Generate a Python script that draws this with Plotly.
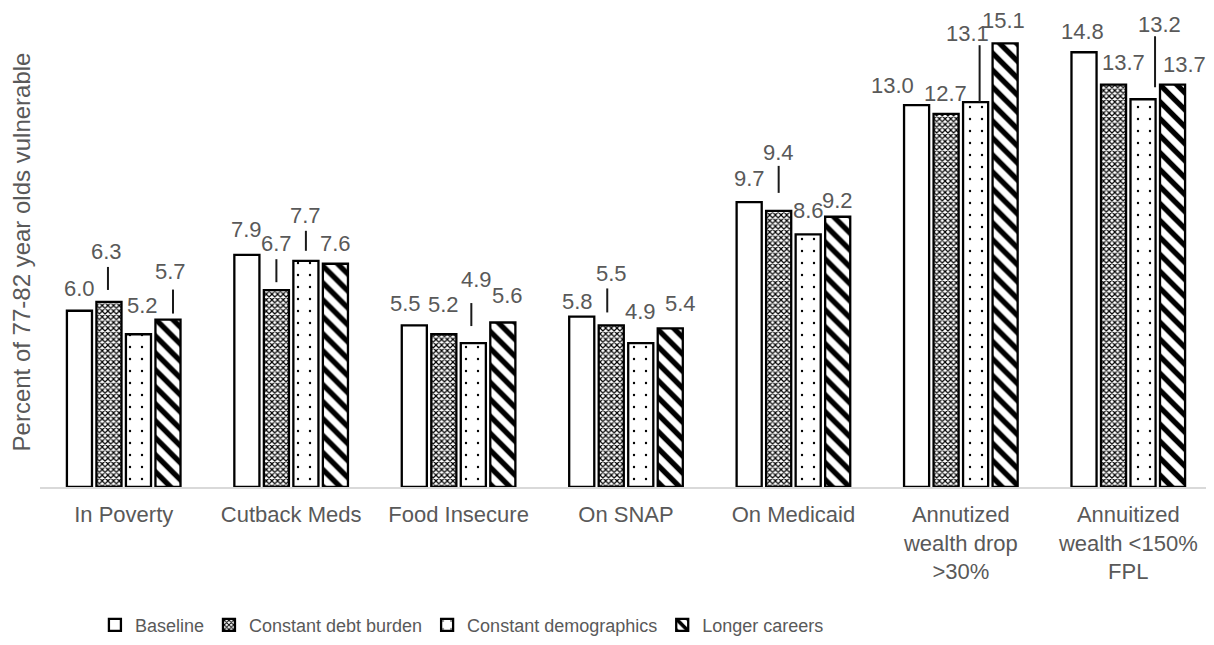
import plotly.graph_objects as go

categories = ["In Poverty", "Cutback Meds", "Food Insecure", "On SNAP", "On Medicaid",
              "Annutized<br>wealth drop<br>>30%", "Annuitized<br>wealth <150%<br>FPL"]
series_names = ["Baseline", "Constant debt burden", "Constant demographics", "Longer careers"]
baseline = [6.0, 7.9, 5.5, 5.8, 9.7, 13.0, 14.8]
debt = [6.3, 6.7, 5.2, 5.5, 9.4, 12.7, 13.7]
demog = [5.2, 7.7, 4.9, 4.9, 8.6, 13.1, 13.2]
longer = [5.7, 7.6, 5.6, 5.4, 9.2, 15.1, 13.7]
values = [baseline, debt, demog, longer]

GRAY = "#595959"
FONT = "Liberation Sans, Arial, sans-serif"
BARGAP = 0.295
patterns = [
    dict(shape=""),
    dict(shape="x", size=4, solidity=0.5, fgcolor="black", bgcolor="white", fgopacity=1),
    dict(shape=".", size=12, solidity=0.03, fgcolor="black", bgcolor="white", fgopacity=1),
    dict(shape="\\", size=12, solidity=0.45, fgcolor="black", bgcolor="white", fgopacity=1),
]

# label placement (pixel offsets): (series, category) -> (dx, dy, leader)
label_style = {
    (0, 0): (0, 22, None), (1, 0): (-2, 50, (-1, 12, 35)), (2, 0): (4, 29, None), (3, 0): (3, 48, (5, 6, 30)),
    (0, 1): (0, 25, None), (1, 1): (0, 47, (0, 8, 31)), (2, 1): (0, 45, (0, 10, 30)), (3, 1): (0, 20, None),
    (0, 2): (-9, 22, None), (1, 2): (0, 30, None), (2, 2): (3, 64, (-2, 17, 40)), (3, 2): (5, 27, None),
    (0, 3): (-4, 15, None), (1, 3): (0, 52, (-4, 13, 37)), (2, 3): (0, 32, None), (3, 3): (10, 25, None),
    (0, 4): (0, 24, None), (1, 4): (0, 58, (0, 18, 45)), (2, 4): (0, 24, None), (3, 4): (0, 16, None),
    (0, 5): (-24, 20, None), (1, 5): (-1, 20, None), (2, 5): (-8, 69, (4, 0, 57)), (3, 5): (-2, 23, None),
    (0, 6): (-2, 21, None), (1, 6): (10, 22, None), (2, 6): (16, 75, (12, 12, 63)), (3, 6): (12, 20, None),
}

fig = go.Figure()
for k, (name, vals) in enumerate(zip(series_names, values)):
    fig.add_trace(go.Bar(
        name=name, x=categories, y=vals,
        marker=dict(color="white", line=dict(color="black", width=2.3), pattern=patterns[k]),
        cliponaxis=False,
    ))

slot = (1 - BARGAP) / 4
annotations = []
shapes = []
for k, vals in enumerate(values):
    for i, v in enumerate(vals):
        dx, dy, leader = label_style[(k, i)]
        xc = i + (k - 1.5) * slot
        annotations.append(dict(
            x=xc, y=v, xref="x", yref="y", text=f"{v:.1f}", showarrow=False,
            xshift=dx, yshift=dy, yanchor="middle", xanchor="center",
            font=dict(family=FONT, size=22, color=GRAY),
        ))
        if leader:
            lx, ly0, ly1 = leader
            shapes.append(dict(
                type="line", xref="x", yref="y", xsizemode="pixel", ysizemode="pixel",
                xanchor=xc, yanchor=v, x0=lx, x1=lx, y0=ly0, y1=ly1,
                line=dict(color="#1a1a1a", width=2),
            ))

fig.update_layout(
    width=1214, height=645,
    margin=dict(l=32, r=10, t=9, b=161),
    paper_bgcolor="white", plot_bgcolor="white",
    barmode="group", bargap=BARGAP, bargroupgap=0.15,
    font=dict(family=FONT, color=GRAY),
    annotations=annotations, shapes=shapes,
    showlegend=True,
    legend=dict(orientation="h", x=0.36, xanchor="center", y=-0.294, yanchor="middle",
                font=dict(family=FONT, size=18, color=GRAY), itemwidth=30,
                traceorder="normal"),
    xaxis=dict(tickfont=dict(family=FONT, size=22, color=GRAY), showline=True,
               linecolor="#d9d9d9", linewidth=1.5, ticks="", showgrid=False,
               automargin=False, ticklabelstandoff=7),
    yaxis=dict(range=[0, 16], showticklabels=False, showgrid=False, zeroline=False,
               ticks="", showline=False, automargin=False,
               title=dict(text="Percent of 77-82 year olds vulnerable",
                          font=dict(family=FONT, size=24, color=GRAY), standoff=6)),
)

fig.write_html("out.html")
